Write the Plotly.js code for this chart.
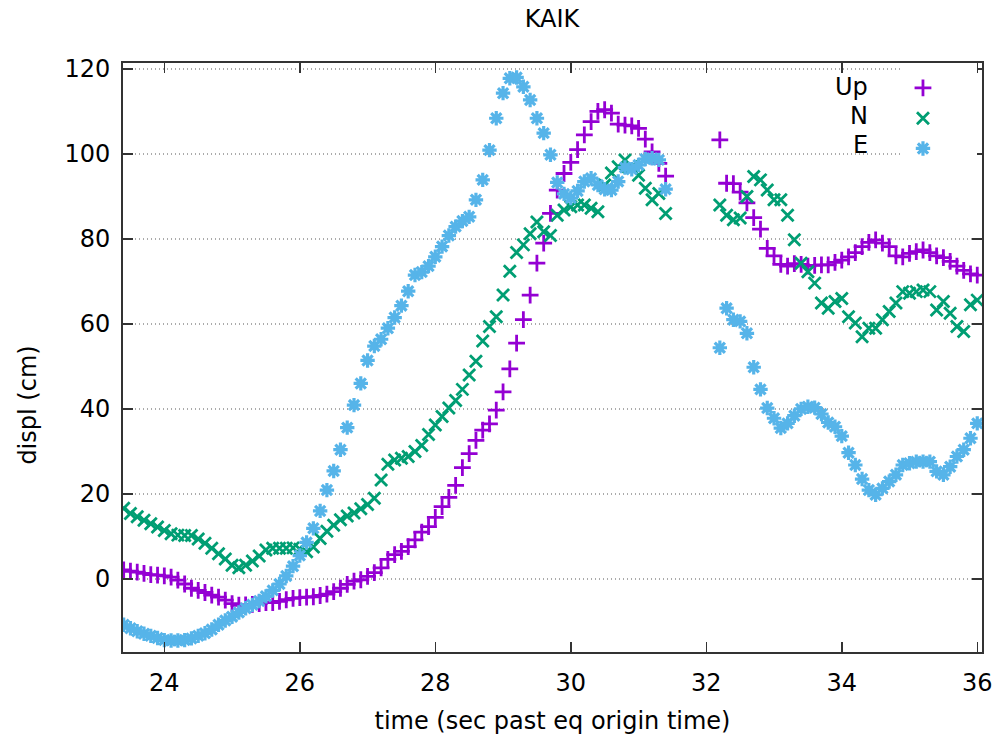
<!DOCTYPE html>
<html>
<head>
<meta charset="utf-8">
<script src="https://cdn.plot.ly/plotly-3.0.1.min.js"></script>
<style>html,body{margin:0;padding:0;background:#fff;}#chart{width:999px;height:742px;}</style>
</head>
<body>
<div id="chart"></div>
<script>
// time samples (sec past eq origin time)
const time = [
  23.4,23.5,23.6,23.7,23.8,23.9,
  24.0,24.1,24.2,24.3,24.4,24.5,24.6,24.7,24.8,24.9,
  25.0,25.1,25.2,25.3,25.4,25.5,25.6,25.7,25.8,25.9,
  26.0,26.1,26.2,26.3,26.4,26.5,26.6,26.7,26.8,26.9,
  27.0,27.1,27.2,27.3,27.4,27.5,27.6,27.7,27.8,27.9,
  28.0,28.1,28.2,28.3,28.4,28.5,28.6,28.7,28.8,28.9,
  29.0,29.1,29.2,29.3,29.4,29.5,29.6,29.7,29.8,29.9,
  30.0,30.1,30.2,30.3,30.4,30.5,30.6,30.7,30.8,30.9,
  31.0,31.1,31.2,31.3,31.4,
  32.2,32.3,32.4,32.5,32.6,32.7,32.8,32.9,
  33.0,33.1,33.2,33.3,33.4,33.5,33.6,33.7,33.8,33.9,
  34.0,34.1,34.2,34.3,34.4,34.5,34.6,34.7,34.8,34.9,
  35.0,35.1,35.2,35.3,35.4,35.5,35.6,35.7,35.8,35.9,
  36.0
];
// displacement (cm)
const up = [
  2.1,1.8,1.6,1.3,1.0,0.9,
  0.7,0.4,-0.3,-1.2,-2.2,-2.7,-3.2,-3.8,-4.3,-5.0,
  -5.8,-6.2,-6.1,-6.0,-5.8,-5.6,-5.6,-5.3,-4.9,-4.6,
  -4.4,-4.3,-4.2,-3.9,-3.6,-3.0,-2.2,-1.3,-0.5,-0.2,
  0.6,1.5,2.6,4.6,5.7,6.5,7.6,9.2,11.0,12.3,
  14.5,17.0,19.2,22.0,26.2,29.5,32.6,35.0,36.5,39.7,
  44.0,49.4,55.5,61.0,66.8,74.3,79.0,86.0,91.5,95.4,
  98.0,101.0,104.5,107.6,110.0,110.4,109.6,107.0,106.8,106.6,
  106.0,103.5,100.5,97.8,94.8,
  103.3,93.1,93.0,91.0,88.5,85.0,82.3,77.8,
  76.0,74.0,73.6,74.2,74.0,73.6,73.8,73.9,73.9,74.5,
  75.0,75.8,76.8,78.2,79.2,79.8,79.0,78.2,76.0,75.8,
  76.6,77.0,77.4,76.8,76.0,75.6,74.7,73.6,72.6,71.8,
  71.5
];
const north = [
  16.6,15.4,14.6,13.8,13.0,12.2,
  11.4,10.6,10.3,10.2,10.2,9.4,8.4,7.2,5.9,4.7,
  3.2,2.6,3.2,4.2,5.4,6.8,7.2,7.2,7.2,7.3,
  7.0,6.4,7.5,9.5,11.2,12.6,13.9,14.8,15.5,16.5,
  17.5,19.0,23.3,27.0,28.0,28.4,28.8,30.0,31.4,34.0,
  36.2,38.2,40.2,42.0,44.6,48.0,51.2,56.0,59.4,61.7,
  66.8,72.4,76.8,78.6,81.2,84.0,81.7,80.8,85.6,86.8,
  87.6,88.0,88.0,87.2,86.4,92.7,95.5,97.0,98.6,97.0,
  95.0,91.9,89.2,90.7,86.0,
  88.0,85.6,84.5,84.9,90.0,94.7,93.9,91.5,
  89.2,89.2,85.6,79.8,74.3,72.3,69.6,64.9,63.7,65.3,
  66.0,61.7,60.2,57.0,59.0,59.0,61.0,62.9,64.9,67.6,
  67.2,67.6,68.0,67.6,63.3,65.3,62.5,59.4,58.2,64.5,
  65.6
];
const east = [
  -10.8,-11.6,-12.3,-12.9,-13.4,-13.9,
  -14.4,-14.5,-14.5,-14.4,-14.0,-13.4,-12.8,-11.9,-10.8,-9.8,
  -8.9,-7.9,-6.9,-6.1,-5.2,-4.1,-2.7,-1.2,0.7,3.0,
  5.5,8.6,11.9,16.0,20.9,25.4,30.4,35.6,40.9,46.0,
  51.4,54.8,56.4,59.0,61.5,64.3,67.7,71.5,72.2,73.6,
  75.8,78.2,80.8,82.9,84.2,85.2,89.2,93.9,100.9,108.4,
  114.3,117.8,118.0,115.8,112.7,108.4,104.9,99.8,93.3,90.6,
  89.6,91.3,93.5,94.3,92.7,91.7,91.5,93.5,96.8,96.4,
  97.4,98.8,99.0,98.6,91.7,
  54.4,63.7,61.0,60.6,57.8,49.8,44.6,40.2,
  37.8,35.5,36.6,38.4,40.0,40.5,40.3,38.8,36.8,35.8,
  33.6,29.7,26.8,23.5,20.9,19.8,21.3,22.9,24.5,26.8,
  27.2,27.6,27.6,27.6,25.3,24.5,26.4,28.8,30.4,33.1,
  36.6
];
const seriesNames = ['Up', 'N', 'E'];
const xTicks = [24, 26, 28, 30, 32, 34, 36];
const yTicks = [0, 20, 40, 60, 80, 100, 120];

const FONT = 'DejaVu Sans, sans-serif';
const FS = 24;
const styles = [
  {color: '#9400D3', symbol: 'cross-thin', width: 2.8},
  {color: '#009E73', symbol: 'x-thin', width: 2.8},
  {color: '#56B4E9', symbol: 'asterisk', width: 3.2}
];
const values = [up, north, east];

const traces = values.map((v, i) => ({
  type: 'scatter',
  mode: 'markers',
  name: seriesNames[i],
  x: time,
  y: v,
  marker: {
    symbol: styles[i].symbol,
    size: 12,
    color: styles[i].color,
    line: {color: styles[i].color, width: styles[i].width}
  }
}));

const legendLabels = seriesNames.map((n, i) => ({
  text: n, xref: 'paper', yref: 'paper',
  x: 0.8696, xanchor: 'right',
  y: 0.959 - i * 0.0492, yanchor: 'middle',
  showarrow: false,
  font: {family: FONT, size: FS, color: '#000000'}
}));

const yTitle = {
  text: 'displ (cm)', xref: 'paper', yref: 'paper',
  x: -0.1106, xanchor: 'center',
  y: 0.42, yanchor: 'middle',
  textangle: -90,
  showarrow: false,
  font: {family: FONT, size: FS, color: '#000000'}
};

const layout = {
  width: 999,
  height: 742,
  margin: {l: 123, r: 17, t: 63, b: 90},
  paper_bgcolor: '#ffffff',
  plot_bgcolor: '#ffffff',
  font: {family: FONT, size: FS, color: '#000000'},
  title: {
    text: 'KAIK',
    font: {family: FONT, size: FS, color: '#000000'},
    x: 0.5525, xref: 'container', xanchor: 'center',
    y: 0.975, yref: 'container', yanchor: 'middle'
  },
  showlegend: true,
  legend: {
    x: 0.908, xanchor: 'left',
    y: 0.992, yanchor: 'top',
    bgcolor: '#ffffff',
    borderwidth: 0,
    font: {family: FONT, size: 21, color: 'rgba(0,0,0,0)'},
    itemwidth: 30
  },
  xaxis: {
    range: [23.39, 36.07],
    tickvals: xTicks,
    ticktext: xTicks.map(String),
    ticks: 'inside',
    ticklen: 10,
    tickwidth: 1.5,
    tickcolor: '#333333',
    showline: true,
    linecolor: '#333333',
    linewidth: 2,
    mirror: 'ticks',
    showgrid: false,
    zeroline: false,
    ticklabelstandoff: 8,
    tickfont: {family: FONT, size: FS, color: '#000000'},
    title: {text: 'time (sec past eq origin time)', font: {family: FONT, size: FS, color: '#000000'}, standoff: 16}
  },
  yaxis: {
    range: [-17.2, 121.4],
    tickvals: yTicks,
    ticktext: yTicks.map(String),
    ticks: 'inside',
    ticklen: 10,
    tickwidth: 1.5,
    tickcolor: '#333333',
    showline: true,
    linecolor: '#333333',
    linewidth: 2,
    mirror: 'ticks',
    showgrid: true,
    gridcolor: '#aaaaaa',
    griddash: '1px,3px',
    gridwidth: 1.3,
    zeroline: false,
    ticklabelstandoff: 6,
    tickfont: {family: FONT, size: FS, color: '#000000'}
  },
  shapes: [{
    type: 'rect', xref: 'paper', yref: 'paper',
    x0: 0.831, x1: 0.988, y0: 0.835, y1: 0.985,
    fillcolor: '#ffffff', line: {width: 0}, layer: 'between'
  }],
  annotations: legendLabels.concat([yTitle])
};

Plotly.newPlot('chart', traces, layout, {displayModeBar: false, staticPlot: true});
</script>
</body>
</html>
